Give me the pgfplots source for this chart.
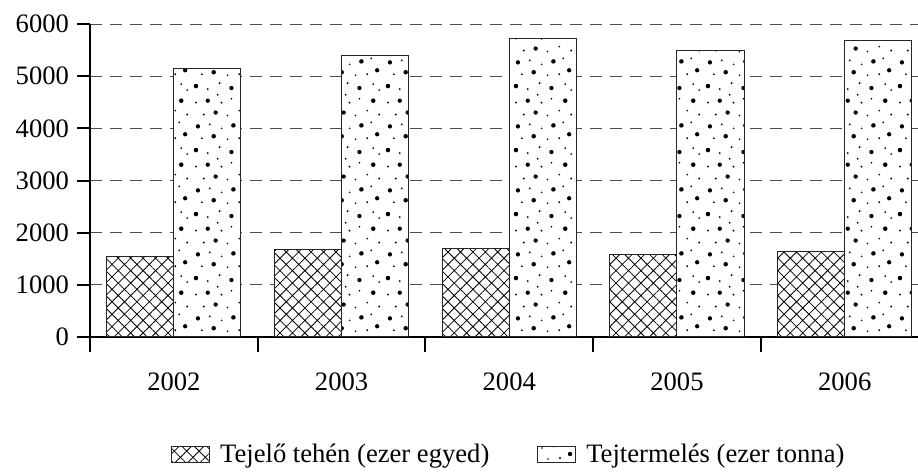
\documentclass[border=0pt]{standalone}
\usepackage{fontspec}
\setmainfont{Liberation Serif}
\usepackage{pgfplots}
\pgfplotsset{compat=1.18}
\usetikzlibrary{patterns,patterns.meta}

% irregular dot texture for the milk production bars
\pgfdeclarepatternformonly{milkdots}{\pgfpointorigin}{\pgfqpoint{32pt}{32pt}}{\pgfqpoint{32pt}{32pt}}{%
  \foreach \x/\y/\r in {2/3/1.15, 8/1.5/0.5, 14/4.5/0.55, 20/2/1.1, 27/4/0.5, 30/1/0.45,
                        5/9/0.5, 11/10/1.15, 18/8.5/0.45, 24/9/0.55, 29/11/1.1,
                        3/15/1.1, 9/16/0.55, 15/14/0.45, 21/15.5/1.15, 26/17/0.5,
                        6/21/0.55, 12/22/1.1, 18/20.5/0.5, 24/23/0.5, 30/21/0.55,
                        2/27/0.5, 8/28/1.1, 15/27/0.55, 20/29/0.45, 27/28/1.15, 13/31/0.5}{%
    \pgfpathcircle{\pgfqpoint{\x pt}{\y pt}}{\r pt}}%
  \pgfusepath{fill}}

\begin{document}
\begin{tikzpicture}
\useasboundingbox (-45pt,-69.5pt) rectangle (414pt,168.5pt);
\begin{axis}[
    width=414pt, height=156.5pt, scale only axis,
    xmin=-0.5, xmax=4.437, ymin=0, ymax=6000,
    axis x line=bottom, axis y line=left,
    axis line style={line width=1pt, -},
    ybar=0pt, bar width=0.4,
    xtick={0,1,2,3,4},
    xticklabels={2002,2003,2004,2005,2006},
    major x tick style={draw=none},
    minor xtick={-0.5,0.5,1.5,2.5,3.5},
    minor tick length=7.5pt,
    major tick length=6.5pt,
    tick align=outside,
    tick style={line width=1pt, black},
    ytick={0,1000,...,6000},
    ymajorgrids,
    grid style={dash pattern=on 6pt off 4pt, black!70, line width=0.5pt},
    ticklabel style={font=\fontsize{13.3}{16}\selectfont},
    xticklabel style={yshift=-8pt},
    yticklabel style={xshift=-0.5pt},
    /pgf/number format/.cd, 1000 sep={}, assume math mode=true, /pgfplots/.cd,
    legend columns=2,
    legend style={at={(0.507,-0.377)}, anchor=center, draw=none,
        font=\fontsize{13.3}{16}\selectfont,
        /tikz/every odd column/.append style={column sep=3pt},
        /tikz/every even column/.append style={column sep=22pt}},
    legend cell align=left,
    legend image code/.code={\draw[#1, line width=0.5pt] (0pt,-4pt) rectangle (19pt,4pt);},
]
\addplot[draw=black!85, line width=0.5pt, fill=white,
    postaction={pattern={Hatch[angle=45, distance=4.4pt, line width=0.4pt]}}]
    coordinates {(0,1550) (1,1680) (2,1700) (3,1590) (4,1648)};
\addplot[draw=black!85, line width=0.5pt, fill=white,
    postaction={pattern=milkdots}]
    coordinates {(0,5150) (1,5400) (2,5720) (3,5500) (4,5690)};
\legend{Tejelő tehén (ezer egyed), Tejtermelés (ezer tonna)}
\end{axis}
\end{tikzpicture}
\end{document}
